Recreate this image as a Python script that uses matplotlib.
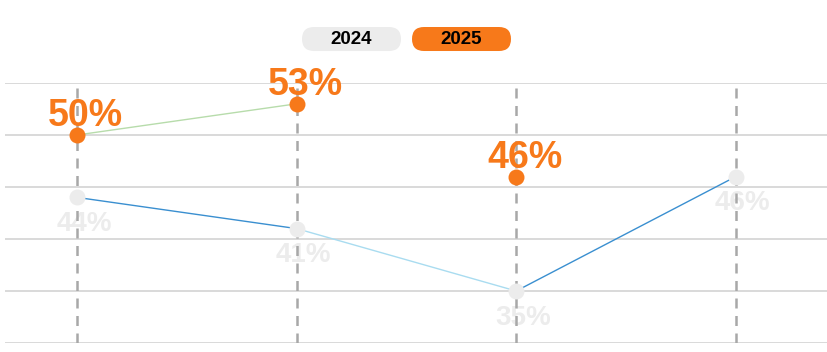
import numpy as np
import matplotlib.pyplot as plt
from matplotlib.patches import FancyBboxPatch

# данные
x_pos = [0, 1, 2, 3]
vals_2024 = [44, 41, 35, 46]
vals_2025 = [50, 53, 46]
seg_colors_2024 = ['#3a8fd0', '#a9dcf0', '#3a8fd0']
seg_colors_2025 = ['#b7dcab', None]  # второй отрезок не рисуется
orange = '#f7791a'
light = '#ececec'

plt.rcParams['font.family'] = ['Liberation Sans', 'DejaVu Sans']

fig = plt.figure(figsize=(8.28, 3.52), dpi=100)
ax = fig.add_axes([5 / 828, 9 / 352, 823 / 828, 260 / 352])
ax.set_xlim(-0.328, 3.42)
ax.set_ylim(30, 55)

# сетка
for yv in np.arange(30, 56, 5):
    ax.axhline(yv, color='#cfcfcf', lw=1.1, zorder=1)

# вертикальные пунктирные линии
for xv in x_pos:
    ax.plot([xv, xv], [30, 55], color='#a8a8a8', lw=1.8, dashes=(4, 3), zorder=3)

# 2024
for i in range(len(vals_2024) - 1):
    ax.plot(x_pos[i:i + 2], vals_2024[i:i + 2], color=seg_colors_2024[i], lw=1, zorder=4)
ax.plot(x_pos, vals_2024, 'o', color=light, ms=11.5, mec='none', zorder=5)
for xv, v in zip(x_pos, vals_2024):
    ax.annotate(f'{v}%', (xv, v), xytext=(5, -10), textcoords='offset points',
                ha='center', va='top', fontsize=20, fontweight='bold',
                color=light, zorder=2)

# 2025
x25 = x_pos[:len(vals_2025)]
for i in range(len(vals_2025) - 1):
    if seg_colors_2025[i]:
        ax.plot(x25[i:i + 2], vals_2025[i:i + 2], color=seg_colors_2025[i], lw=1, zorder=4)
ax.plot(x25, vals_2025, 'o', color=orange, ms=11.5, mec='none', zorder=6)
for xv, v in zip(x25, vals_2025):
    ax.annotate(f'{v}%', (xv, v), xytext=(6, 6.5), textcoords='offset points',
                ha='center', va='baseline', fontsize=27, fontweight='bold',
                color=orange, zorder=7, annotation_clip=False)

ax.axis('off')

# легенда-таблетки (в пикселях)
lax = fig.add_axes([0, 0, 1, 1], zorder=10)
lax.set_xlim(0, 828)
lax.set_ylim(352, 0)
lax.axis('off')
for x0, label, fc in [(302, '2024', light), (412, '2025', orange)]:
    pill = FancyBboxPatch((x0 + 12, 39), 99 - 24, 0.01,
                          boxstyle='round,pad=12', fc=fc, ec='none')
    lax.add_patch(pill)
    lax.text(x0 + 49.5, 40, label, ha='center', va='center',
             fontsize=13.5, fontweight='bold', color='black')

fig.savefig('out.png', dpi=100)
